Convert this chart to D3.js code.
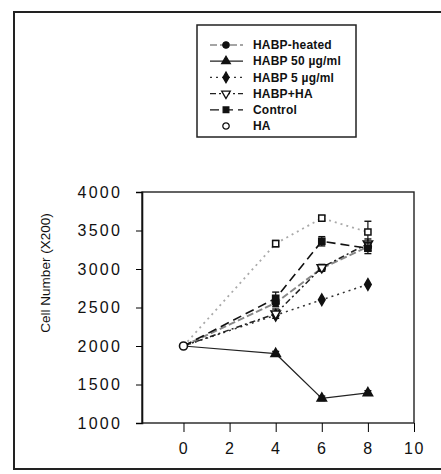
<!DOCTYPE html>
<html>
<head>
<meta charset="utf-8">
<script src="https://cdn.jsdelivr.net/npm/d3@7"></script>
<style>
  body { margin: 0; background: #fff; }
  svg { display: block; }
  text { font-family: "Liberation Sans", Arial, sans-serif; fill: #111; }
</style>
</head>
<body>
<div id="chart"></div>
<script>
var svgWidth = 441;
var svgHeight = 474;

// days and series values (cell number x200)
var days = [0, 4, 6, 8];
var xTicks = [0, 2, 4, 6, 8, 10];
var yTicks = [1000, 1500, 2000, 2500, 3000, 3500, 4000];

var heated = [2000, 2560, 3010, 3290];
var habp50 = [2000, 1900, 1320, 1390];
var habp5 = [2000, 2400, 2600, 2800];
var habpHA = [2000, 2420, 3020, 3330];
var control = [2000, 2620, 3360, 3270];
var ha = [2000, 3330, 3660, 3480];

var heatedErr = [0, 50, 40, 50];
var habp50Err = [0, 30, 30, 30];
var habp5Err = [0, 0, 0, 0];
var habpHAErr = [0, 60, 40, 60];
var controlErr = [0, 80, 60, 70];
var haErr = [0, 40, 30, 140];

var seriesNames = ["HABP-heated", "HABP 50 \u00b5g/ml", "HABP 5 \u00b5g/ml", "HABP+HA", "Control", "HA"];

var series = [
  { name: seriesNames[0], values: heated, err: heatedErr, color: "#888", dash: "7,3", width: 2, symbol: d3.symbolCircle, fill: "#111", rot: 0 },
  { name: seriesNames[1], values: habp50, err: habp50Err, color: "#222", dash: null, width: 1.2, symbol: d3.symbolTriangle, fill: "#111", rot: 0 },
  { name: seriesNames[2], values: habp5, err: habp5Err, color: "#333", dash: "2,4", width: 1.5, symbol: d3.symbolDiamond, fill: "#111", rot: 0 },
  { name: seriesNames[3], values: habpHA, err: habpHAErr, color: "#222", dash: "6,3,2,3", width: 1.5, symbol: d3.symbolTriangle, fill: "#fff", rot: 180 },
  { name: seriesNames[4], values: control, err: controlErr, color: "#111", dash: "9,5", width: 1.6, symbol: d3.symbolSquare, fill: "#111", rot: 0 },
  { name: seriesNames[5], values: ha, err: haErr, color: "#aaa", dash: "2,4", width: 1.8, symbol: d3.symbolSquare, fill: "#fff", rot: 0 }
];

var svg = d3.select("#chart")
  .append("svg")
  .attr("width", svgWidth)
  .attr("height", svgHeight);

// outer frame of the scanned figure
svg.append("path")
  .attr("d", "M445,12 L14,12 L14,469 L445,469")
  .attr("fill", "none")
  .attr("stroke", "#222")
  .attr("stroke-width", 2);

var plotTop = 192, plotBottom = 423, plotLeft = 142, plotRight = 414;

var xLinearScale = d3.scaleLinear().domain([-1.8, 10]).range([plotLeft, plotRight]);
var yLinearScale = d3.scaleLinear().domain([1000, 4000]).range([plotBottom, plotTop]);

// plot box
svg.append("rect")
  .attr("x", plotLeft)
  .attr("y", plotTop)
  .attr("width", plotRight - plotLeft)
  .attr("height", plotBottom - plotTop)
  .attr("fill", "none")
  .attr("stroke", "#222")
  .attr("stroke-width", 1.4);

// left axis
var leftAxis = d3.axisLeft(yLinearScale).tickValues(yTicks).tickSize(6).tickPadding(14).tickFormat(d3.format("d"));
var yAxis = svg.append("g")
  .attr("transform", "translate(" + plotLeft + ",0)")
  .call(leftAxis);
yAxis.select(".domain").attr("stroke", "#111").attr("stroke-width", 1.6);
yAxis.selectAll("text")
  .style("font-size", "16px")
  .style("letter-spacing", "2.2px");

// bottom axis, ticks hang below the box
var bottomAxis = d3.axisBottom(xLinearScale).tickValues(xTicks).tickSize(9).tickPadding(11);
var xAxis = svg.append("g")
  .attr("transform", "translate(0," + plotBottom + ")")
  .call(bottomAxis);
xAxis.select(".domain").remove();
xAxis.selectAll("text")
  .style("font-size", "16px")
  .style("letter-spacing", "1.5px");

// y axis title
svg.append("text")
  .attr("transform", "translate(50,273) rotate(-90)")
  .attr("text-anchor", "middle")
  .style("font-size", "13.5px")
  .text("Cell Number (X200)");

var line = d3.line()
  .x(function(d, i) { return xLinearScale(days[i]); })
  .y(function(d) { return yLinearScale(d); });

var chartGroup = svg.append("g");

// lines
series.forEach(function(s) {
  chartGroup.append("path")
    .datum(s.values)
    .attr("d", line)
    .attr("fill", "none")
    .attr("stroke", s.color)
    .attr("stroke-width", s.width)
    .attr("stroke-dasharray", s.dash);
});

// error bars and markers
series.forEach(function(s) {
  var g = chartGroup.append("g");
  s.values.forEach(function(v, i) {
    if (s.err[i] > 0) {
      var cx = xLinearScale(days[i]);
      g.append("line")
        .attr("x1", cx).attr("x2", cx)
        .attr("y1", yLinearScale(v - s.err[i])).attr("y2", yLinearScale(v + s.err[i]))
        .attr("stroke", "#111").attr("stroke-width", 1.2);
      [v - s.err[i], v + s.err[i]].forEach(function(e) {
        g.append("line")
          .attr("x1", cx - 3.5).attr("x2", cx + 3.5)
          .attr("y1", yLinearScale(e)).attr("y2", yLinearScale(e))
          .attr("stroke", "#111").attr("stroke-width", 1.4);
      });
    }
  });
  g.selectAll("path")
    .data(s.values.slice(1))
    .enter()
    .append("path")
    .attr("d", d3.symbol().type(s.symbol).size(38))
    .attr("transform", function(d, i) {
      return "translate(" + xLinearScale(days[i + 1]) + "," + yLinearScale(d) + ") rotate(" + s.rot + ")";
    })
    .attr("fill", s.fill)
    .attr("stroke", "#111")
    .attr("stroke-width", 1.5);
});

// shared starting point at day 0
chartGroup.append("path")
  .attr("d", d3.symbol().type(d3.symbolCircle).size(50))
  .attr("transform", "translate(" + xLinearScale(days[0]) + "," + yLinearScale(ha[0]) + ")")
  .attr("fill", "#fff")
  .attr("stroke", "#111")
  .attr("stroke-width", 1.6);

// legend
var legend = svg.append("g");
legend.append("rect")
  .attr("x", 197).attr("y", 25)
  .attr("width", 356 - 197).attr("height", 137 - 25)
  .attr("fill", "#fff")
  .attr("stroke", "#222")
  .attr("stroke-width", 1.5);

series.forEach(function(s, i) {
  var ly = 45 + i * 16.2;
  if (s.name !== "HA") {
    legend.append("line")
      .attr("x1", 210).attr("x2", 243)
      .attr("y1", ly).attr("y2", ly)
      .attr("stroke", s.color === "#aaa" ? "#888" : s.color)
      .attr("stroke-width", 1.3)
      .attr("stroke-dasharray", s.dash);
  }
  legend.append("path")
    .attr("d", d3.symbol().type(s.name === "HA" ? d3.symbolCircle : s.symbol).size(32))
    .attr("transform", "translate(226," + ly + ") rotate(" + s.rot + ")")
    .attr("fill", s.fill)
    .attr("stroke", "#111")
    .attr("stroke-width", 1.3);
  legend.append("text")
    .attr("x", 253)
    .attr("y", ly)
    .attr("dy", "0.35em")
    .style("font-size", "12px")
    .style("font-weight", "bold")
    .style("letter-spacing", "0.2px")
    .text(s.name);
});
</script>
</body>
</html>
